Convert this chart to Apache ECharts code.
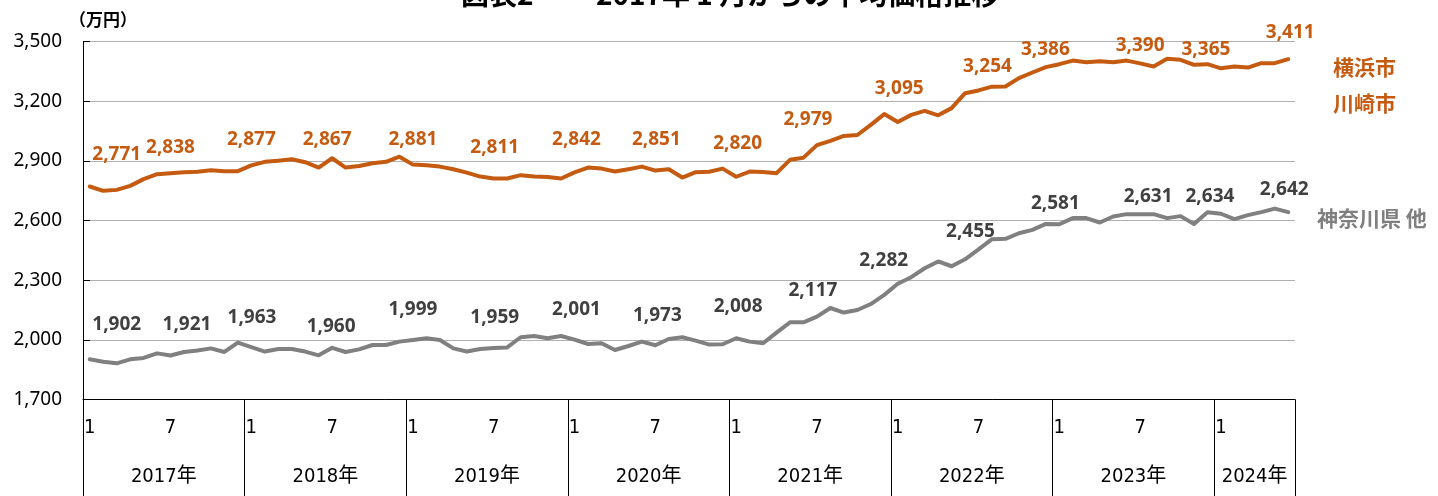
<!DOCTYPE html>
<html><head><meta charset="utf-8">
<script src="https://cdn.jsdelivr.net/npm/echarts@6/dist/echarts.min.js"></script>
<style>html,body{margin:0;padding:0;background:#fff}#c{width:1438px;height:496px}</style>
</head><body><div id="c"></div>
<script>
// ---- data ----
const years = ['2017年','2018年','2019年','2020年','2021年','2022年','2023年','2024年'];
const monthsPerYear = [12,12,12,12,12,12,12,6];
const shownMonths = ['1','7'];
const yokohamaKawasaki = [
 2771,2749,2754,2774,2808,2833,2838,2843,2845,2853,2848,2848,
 2877,2895,2901,2908,2893,2866,2913,2866,2874,2888,2895,2921,
 2881,2878,2871,2858,2841,2821,2811,2811,2828,2821,2819,2811,
 2842,2866,2861,2846,2858,2871,2851,2858,2816,2843,2845,2861,
 2820,2846,2844,2838,2905,2916,2979,3000,3025,3030,3081,3135,
 3095,3131,3151,3129,3165,3240,3254,3273,3274,3316,3344,3371,
 3386,3404,3396,3401,3396,3404,3390,3374,3413,3408,3383,3386,
 3365,3374,3369,3391,3391,3411];
const kanagawaOther = [
 1902,1890,1882,1902,1909,1932,1921,1939,1946,1957,1939,1986,
 1963,1941,1954,1954,1941,1922,1960,1939,1952,1974,1974,1991,
 1999,2008,1999,1957,1941,1954,1959,1962,2013,2019,2008,2019,
 2001,1979,1983,1949,1969,1991,1973,2004,2013,1996,1976,1978,
 2008,1991,1983,2036,2088,2088,2117,2160,2137,2150,2180,2226,
 2282,2315,2360,2394,2370,2405,2455,2506,2508,2536,2553,2583,
 2581,2612,2612,2590,2620,2632,2631,2632,2612,2622,2582,2642,
 2634,2607,2627,2642,2660,2642];
const labelIndex = [0,6,12,18,24,30,36,42,48,54,60,66,72,78,84,89];
const yokoLabels = [2771,2838,2877,2867,2881,2811,2842,2851,2820,2979,3095,3254,3386,3390,3365,3411];
const kanaLabels = [1902,1921,1963,1960,1999,1959,2001,1973,2008,2117,2282,2455,2581,2631,2634,2642];
const yMin = 1700, yMax = 3500, yStep = 300;
const unitLabel = '（万円）';
const titleText = '図表2　　 2017年 1 月からの平均価格推移';
const nameYoko = '横浜市\n川崎市';
const nameKana = '神奈川県 他';

// ---- derived ----
const categories = [];
const yearCenter = {};
let start = 0;
years.forEach((y, k) => {
  for (let m = 1; m <= monthsPerYear[k]; m++) categories.push(y.replace('年','') + '-' + m);
  yearCenter[start + monthsPerYear[k] / 2] = y;
  start += monthsPerYear[k];
});
const fmt = n => n.toLocaleString('en-US');
const yokoMap = {}, kanaMap = {};
labelIndex.forEach((idx, k) => { yokoMap[idx] = yokoLabels[k]; kanaMap[idx] = kanaLabels[k]; });

// label fine placement (style)
const yokoShift = {0:[27,-4.5],6:[0,1.5],12:[0,1],18:[-5,8.5],24:[0,1.5],30:[1,-3.5],36:[2,-5.5],42:[1,-4],
  48:[1.5,-6.5],54:[-9,1.5],60:[1.5,-6.5],66:[9,3],72:[-14,12.5],78:[0,9],84:[-15,8.5],89:[2,0.5]};
const kanaShift = {0:[27,-7.5],6:[16.5,-4],12:[0.7,-3],18:[-1,5.5],24:[0,-3.5],30:[1,-3],36:[2,-3],42:[2,-2.5],
  48:[2,-4.5],54:[-4,1.5],60:[-14,3.5],66:[-8,9.5],72:[-4,6.5],78:[8,9.5],84:[-11,9.5],89:[-4,4.5]};

const ORANGE = '#C55A11', GRAY = '#7F7F7F', DARK = '#404040';
const NUMFONT = "'Noto Sans', 'Open Sans', sans-serif";
const CJK = "'Noto Sans CJK JP', 'Noto Sans', sans-serif";
const NARROW = "'Liberation Sans Narrow', 'DejaVu Sans Condensed', 'Noto Sans CJK JP', sans-serif";

function buildData(values, map, shift) {
  return values.map((v, i) => (i in map) ? {value: v, label: {offset: shift[i] || [0,0]}} : v);
}
function lineSeries(name, values, map, shift, color, labelColor, z) {
  return {
    name, type: 'line', z,
    data: buildData(values, map, shift),
    symbol: 'circle', symbolSize: 1, showAllSymbol: true,
    itemStyle: {color: 'rgba(0,0,0,0)'},
    lineStyle: {color, width: 4, join: 'round', cap: 'round'},
    label: {
      show: true, position: 'top', distance: 17,
      formatter: p => (p.dataIndex in map) ? fmt(map[p.dataIndex]) : '',
      color: labelColor, fontSize: 19, fontWeight: 'bold', fontFamily: NUMFONT
    },
    emphasis: {disabled: true},
    animation: false
  };
}

const chart = echarts.init(document.getElementById('c'), null, {renderer: 'canvas'});
chart.setOption({
  backgroundColor: '#fff',
  animation: false,
  title: [
    {text: titleText, left: 461, top: -20, padding: 0,
     textStyle: {fontSize: 28, fontWeight: 'bold', color: '#000', fontFamily: CJK}},
    {text: unitLabel, left: 69, top: 11, padding: 0,
     textStyle: {fontSize: 17, fontWeight: 'bold', color: '#000', fontFamily: CJK}},
    {text: nameYoko, left: 1333, top: 49, padding: 0,
     textStyle: {fontSize: 21, fontWeight: 'bold', color: ORANGE, fontFamily: CJK, lineHeight: 36}},
    {text: nameKana, left: 1317, top: 208, padding: 0,
     textStyle: {fontSize: 21, fontWeight: 'bold', color: GRAY, fontFamily: CJK}}
  ],
  grid: {left: 83, right: 143, top: 41.5, bottom: 96.5, containLabel: false},
  xAxis: [
    {
      type: 'category', data: categories, boundaryGap: true,
      axisLine: {show: true, lineStyle: {color: '#000', width: 1}},
      axisTick: {show: true, interval: i => categories[i].endsWith('-1'), length: 97,
                 lineStyle: {color: '#000', width: 1}},
      axisLabel: {
        interval: i => shownMonths.includes(categories[i].split('-')[1]),
        formatter: v => v.split('-')[1],
        margin: 18, color: '#000', fontSize: 20, fontFamily: NARROW
      },
      splitLine: {show: false}
    },
    {
      type: 'value', position: 'bottom', offset: 58, min: 0, max: categories.length, interval: 1,
      axisLine: {show: false}, axisTick: {show: false}, splitLine: {show: false},
      axisLabel: {formatter: v => yearCenter[v] || '', margin: 9, color: '#000', fontSize: 20,
                  fontFamily: NARROW, showMinLabel: true, showMaxLabel: true}
    }
  ],
  yAxis: {
    type: 'value', min: yMin, max: yMax, interval: yStep,
    axisLine: {show: true, lineStyle: {color: '#000', width: 1}},
    axisTick: {show: true, inside: true, length: 7, lineStyle: {color: '#000'}},
    axisLabel: {formatter: v => fmt(v), margin: 21, color: '#000', fontSize: 19, fontFamily: NUMFONT},
    splitLine: {show: true, lineStyle: {color: '#B0B0B0', width: 1}}
  },
  series: [
    lineSeries('神奈川県 他', kanagawaOther, kanaMap, kanaShift, '#808080', DARK, 2),
    lineSeries('横浜市・川崎市', yokohamaKawasaki, yokoMap, yokoShift, ORANGE, ORANGE, 3)
  ]
});
</script></body></html>
